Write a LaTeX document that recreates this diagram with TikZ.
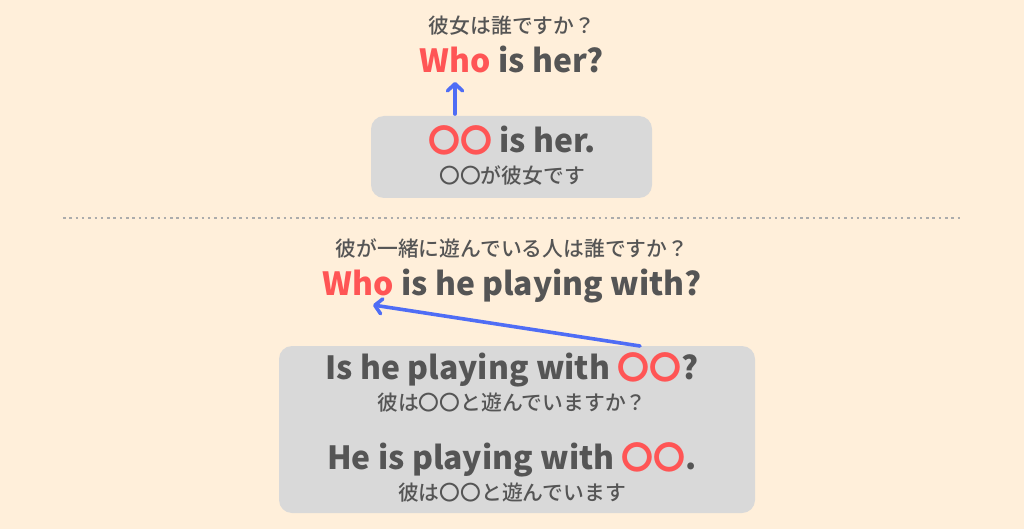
\documentclass[tikz,border=0pt]{standalone}
\usepackage{fontspec}
\setmainfont{Noto Sans CJK JP}
\newfontfamily\jpmid{Noto Sans CJK JP Medium}
\usetikzlibrary{arrows.meta}
\definecolor{bgcream}{HTML}{FFEFDA}
\definecolor{boxgray}{HTML}{D9D9D9}
\definecolor{txtgray}{HTML}{555555}
\definecolor{hired}{HTML}{FF5555}
\definecolor{arrblue}{HTML}{4F6DF5}
\tikzset{>={Straight Barb[length=7pt,width=15pt,round]}}
\tikzset{
  big/.style={anchor=base, inner sep=0pt, text=txtgray, font=\bfseries\fontsize{31.9}{32}\selectfont},
  small/.style={anchor=base, inner sep=0pt, text=txtgray, font=\jpmid\fontsize{20.8}{21}\selectfont},
  box/.style={fill=boxgray, rounded corners=13pt},
  move/.style={->, arrblue, line width=3.6pt, line cap=round}
}
\newcommand\red[1]{\textcolor{hired}{\jpmid #1}}
\begin{document}
\begin{tikzpicture}[x=1pt, y=-1pt]

  \fill[bgcream] (0,0) rectangle (1024,529);
  \useasboundingbox (0,0) rectangle (1024,529);

  %% upper part
  \node[small] (qher) at (512,34) {彼女は誰ですか？};
  \node[big] (who1) at (512,73) {\textcolor{hired}{Who} is her?};
  \fill[box] (371,116) rectangle (652,198);
  \node[big] (ans1) at (512,153) {\red{〇〇} is her.};
  \node[small] (jans1) at (512,184) {〇〇が彼女です};
  \coordinate (from1) at (455,114);
  \coordinate (to1) at (455,82);
  \draw[move] (from1) -- (to1);

  %% separator
  \draw[line width=2.5pt, gray!65, dash pattern=on 2.5pt off 3.8pt] (63,218) -- (960,218);

  %% lower part
  \node[small] (qhe) at (512,256) {彼が一緒に遊んでいる人は誰ですか？};
  \node[big] (who2) at (512,295) {\textcolor{hired}{Who} is he playing with?};
  \fill[box] (279,346) rectangle (755,513);
  \node[big] (ask2) at (512,379) {Is he playing with \red{〇〇}?};
  \node[small] (jask2) at (512,410) {彼は〇〇と遊んでいますか？};
  \node[big] (ans2) at (512,469) {He is playing with \red{〇〇}.};
  \node[small] (jans2) at (512,500) {彼は〇〇と遊んでいます};
  \coordinate (from2) at (640,346);
  \coordinate (to2) at (373,305);
  \draw[move] (from2) -- (to2);

\end{tikzpicture}
\end{document}
